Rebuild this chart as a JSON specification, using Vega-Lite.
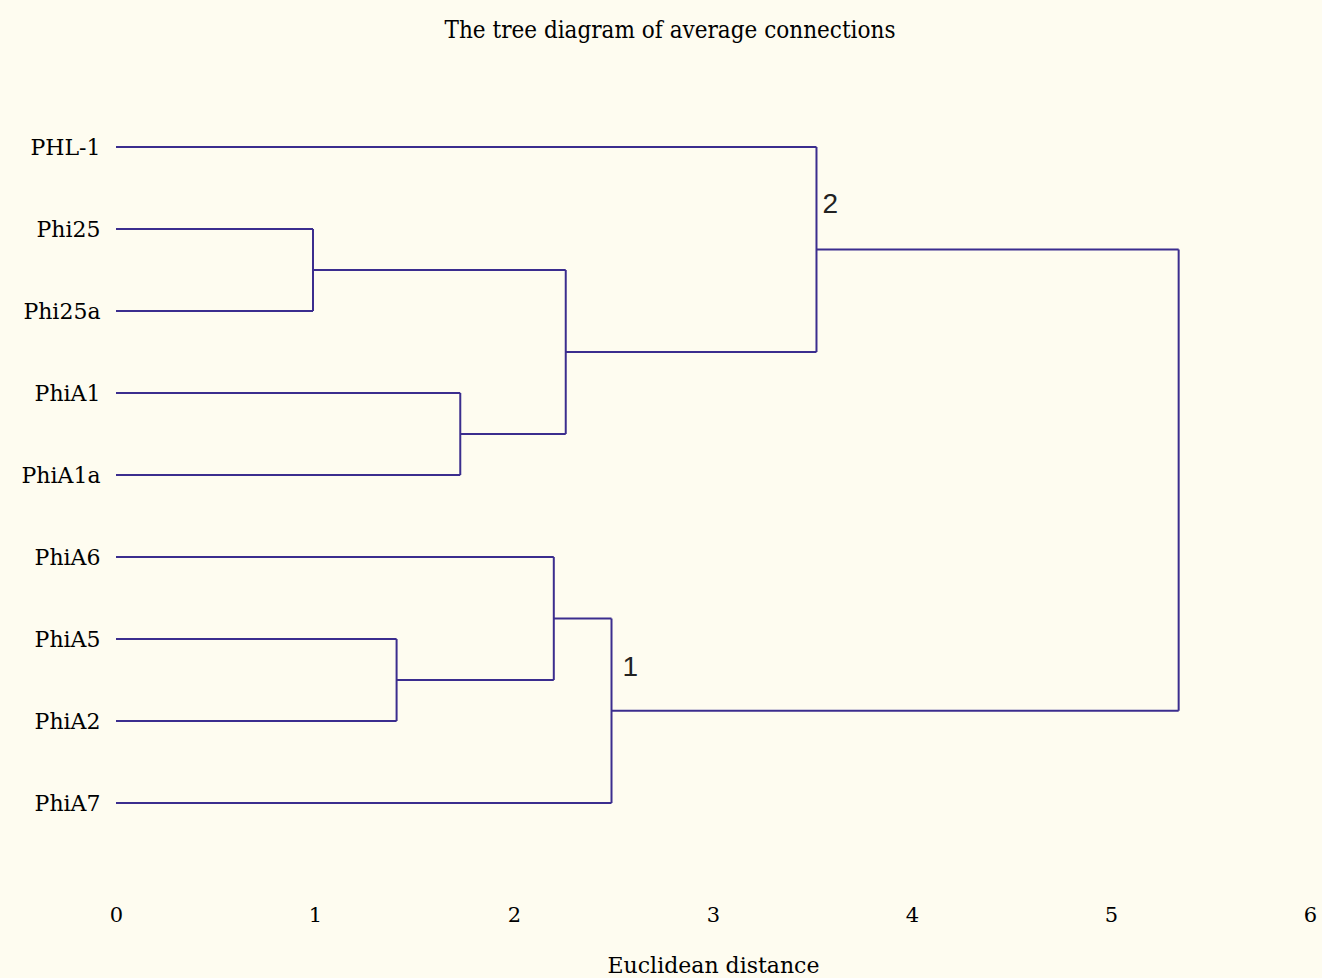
{
  "$schema": "https://vega.github.io/schema/vega-lite/v6.json",
  "autosize": {"type": "none"},
  "width": 1194,
  "height": 832,
  "padding": {"left": 116, "top": 65, "right": 12, "bottom": 81},
  "background": "#fefcf0",
  "config": {"view": {"stroke": null}},
  "title": {
    "text": "The tree diagram of average connections",
    "font": "DejaVu Serif Condensed",
    "fontSize": 24,
    "fontWeight": "normal",
    "color": "#000000",
    "anchor": "middle",
    "dx": -43,
    "offset": 22
  },
  "datasets": {
    "segments": [
      {"x": 0, "x2": 3.52, "y": 0, "y2": 0},
      {"x": 0, "x2": 0.99, "y": 1, "y2": 1},
      {"x": 0, "x2": 0.99, "y": 2, "y2": 2},
      {"x": 0, "x2": 1.73, "y": 3, "y2": 3},
      {"x": 0, "x2": 1.73, "y": 4, "y2": 4},
      {"x": 0, "x2": 2.2, "y": 5, "y2": 5},
      {"x": 0, "x2": 1.41, "y": 6, "y2": 6},
      {"x": 0, "x2": 1.41, "y": 7, "y2": 7},
      {"x": 0, "x2": 2.49, "y": 8, "y2": 8},
      {"x": 0.99, "x2": 0.99, "y": 1, "y2": 2},
      {"x": 0.99, "x2": 2.26, "y": 1.5, "y2": 1.5},
      {"x": 1.73, "x2": 1.73, "y": 3, "y2": 4},
      {"x": 1.73, "x2": 2.26, "y": 3.5, "y2": 3.5},
      {"x": 2.26, "x2": 2.26, "y": 1.5, "y2": 3.5},
      {"x": 2.26, "x2": 3.52, "y": 2.5, "y2": 2.5},
      {"x": 3.52, "x2": 3.52, "y": 0, "y2": 2.5},
      {"x": 3.52, "x2": 5.34, "y": 1.25, "y2": 1.25},
      {"x": 1.41, "x2": 1.41, "y": 6, "y2": 7},
      {"x": 1.41, "x2": 2.2, "y": 6.5, "y2": 6.5},
      {"x": 2.2, "x2": 2.2, "y": 5, "y2": 6.5},
      {"x": 2.2, "x2": 2.49, "y": 5.75, "y2": 5.75},
      {"x": 2.49, "x2": 2.49, "y": 5.75, "y2": 8},
      {"x": 2.49, "x2": 5.34, "y": 6.875, "y2": 6.875},
      {"x": 5.34, "x2": 5.34, "y": 1.25, "y2": 6.875}
    ],
    "clusters": [
      {"x": 3.55, "y": 0.71, "label": "2"},
      {"x": 2.545, "y": 6.35, "label": "1"}
    ]
  },
  "layer": [
    {
      "data": {"name": "segments"},
      "mark": {"type": "rule", "color": "#3b2d8e", "strokeWidth": 2},
      "encoding": {
        "x": {
          "field": "x",
          "type": "quantitative",
          "scale": {"domain": [0, 6], "nice": false, "zero": false},
          "axis": {
            "values": [0, 1, 2, 3, 4, 5, 6],
            "format": "d",
            "title": "Euclidean distance",
            "grid": false,
            "ticks": false,
            "domain": false,
            "labelFont": "DejaVu Serif",
            "labelFontSize": 21,
            "labelColor": "#000000",
            "labelPadding": 7,
            "labelFlush": false,
            "titleFont": "DejaVu Serif",
            "titleFontSize": 22,
            "titleFontWeight": "normal",
            "titleColor": "#000000",
            "titlePadding": 30
          }
        },
        "x2": {"field": "x2"},
        "y": {
          "field": "y",
          "type": "quantitative",
          "scale": {"domain": [-1, 9.146], "nice": false, "zero": false, "reverse": true},
          "axis": {
            "values": [0, 1, 2, 3, 4, 5, 6, 7, 8],
            "labelExpr": "['PHL-1','Phi25','Phi25a','PhiA1','PhiA1a','PhiA6','PhiA5','PhiA2','PhiA7'][datum.value]",
            "title": null,
            "grid": false,
            "ticks": false,
            "domain": false,
            "labelFont": "DejaVu Serif",
            "labelFontSize": 22,
            "labelColor": "#000000",
            "labelPadding": 16
          }
        },
        "y2": {"field": "y2"}
      }
    },
    {
      "data": {"name": "clusters"},
      "mark": {"type": "text", "align": "left", "baseline": "middle", "font": "Liberation Sans", "fontSize": 28, "color": "#222222"},
      "encoding": {
        "x": {"field": "x", "type": "quantitative"},
        "y": {"field": "y", "type": "quantitative"},
        "text": {"field": "label"}
      }
    }
  ]
}
